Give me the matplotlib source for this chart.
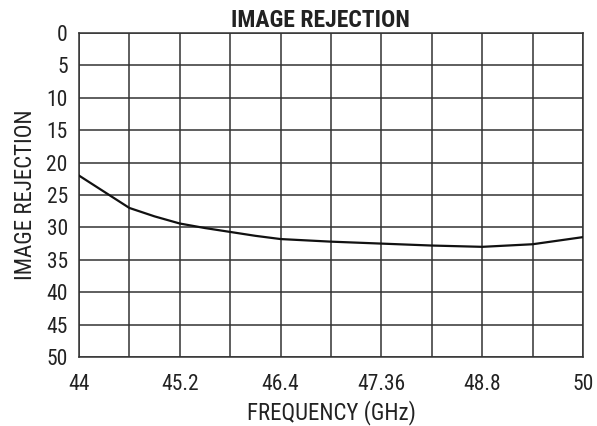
import matplotlib
matplotlib.use("Agg")
import matplotlib.pyplot as plt

# Image rejection vs frequency
freq_ghz = [44.0, 44.3, 44.6, 44.9, 45.2, 45.5, 45.8, 46.1, 46.4,
            47.0, 47.6, 48.2, 48.8, 49.4, 50.0]
rejection = [22.0, 24.5, 27.0, 28.3, 29.4, 30.1, 30.7, 31.3, 31.8,
             32.2, 32.5, 32.8, 33.0, 32.6, 31.5]

x_ticks = [44.0, 45.2, 46.4, 47.6, 48.8, 50.0]
x_tick_labels = ["44", "45.2", "46.4", "47.36", "48.8", "50"]
x_grid = [44.0 + 0.6 * i for i in range(11)]
y_ticks = list(range(0, 55, 5))

plt.rcParams['font.family'] = ['Roboto Condensed', 'DejaVu Sans']

fig = plt.figure(figsize=(5.97, 4.26), dpi=100)
ax = fig.add_axes([0.1323, 0.162, 0.8442, 0.7605])

# grid
for xg in x_grid:
    ax.axvline(xg, color='#333333', linewidth=1.1, zorder=1)
for yg in y_ticks:
    ax.axhline(yg, color='#333333', linewidth=1.1, zorder=1)

ax.plot(freq_ghz, rejection, color='#111111', linewidth=1.6, zorder=3)

ax.set_xlim(44, 50)
ax.set_ylim(50, 0)
ax.set_xticks(x_ticks)
ax.set_xticklabels(x_tick_labels)
ax.set_yticks(y_ticks)
ax.tick_params(axis='both', length=0, labelsize=15.5, colors='#222222')
ax.tick_params(axis='x', pad=12)
ax.tick_params(axis='y', pad=8)

for s in ax.spines.values():
    s.set_color('#333333')
    s.set_linewidth(1.1)

ax.set_xlabel("FREQUENCY (GHz)", fontsize=16.5, color='#222222', labelpad=4)
ax.set_ylabel("IMAGE REJECTION", fontsize=16.5, color='#222222', labelpad=7)
ax.set_title("IMAGE REJECTION", fontsize=17, fontweight='bold', color='#222222',
             pad=4, x=0.48)

fig.savefig("out.png", dpi=100)
